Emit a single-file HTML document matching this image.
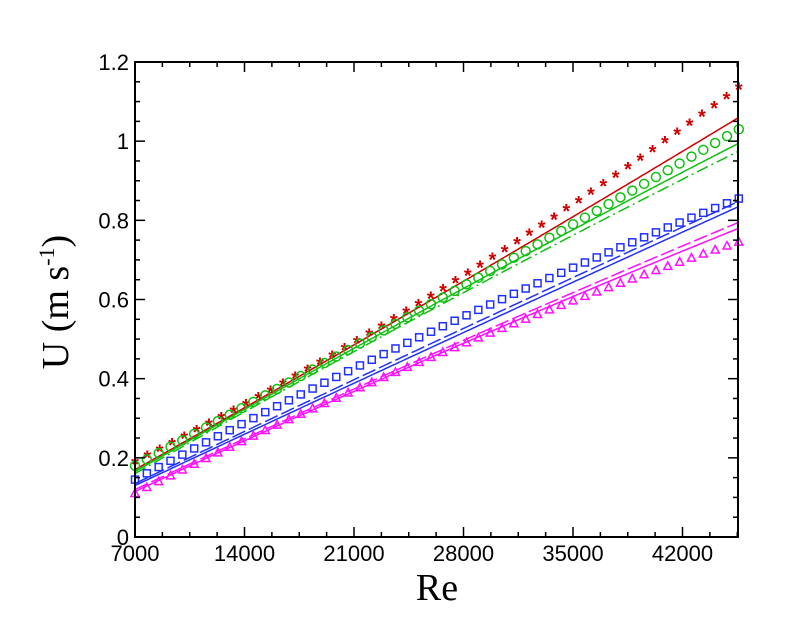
<!DOCTYPE html>
<html><head><style>body{margin:0;background:#fff}svg{display:block}</style></head>
<body>
<svg id="s" width="806" height="619" xmlns="http://www.w3.org/2000/svg" font-family="Liberation Sans, sans-serif"></svg>
<script>
const s=document.getElementById('s');
const L=135,R=738,T=62,B=537;
const X=v=>L+(v-7000)/7000*109.5, Y=v=>B-v/1.2*(B-T);
let h='';
function f(p,x){const [a,b,c]=p;const x0=7000,x1=26000,x2=45600;
 return a*(x-x1)*(x-x2)/((x0-x1)*(x0-x2))+b*(x-x0)*(x-x2)/((x1-x0)*(x1-x2))+c*(x-x0)*(x-x1)/((x2-x0)*(x2-x1));}
function line(p,col,dash){let d='';for(let x=7000;x<=45600;x+=200){d+=(d?'L':'M')+X(x).toFixed(1)+','+Y(f(p,x)).toFixed(1);}
 h+=`<path d="${d}" fill="none" stroke="${col}" stroke-width="1.5" ${dash?'stroke-dasharray="'+dash+'"':''}/>`;}
line([0.17,0.6,1.06],'#d00000');
line([0.165,0.585,0.995],'#10c010');
line([0.16,0.575,0.975],'#10c010','12,4,2,4');
line([0.13,0.48,0.835],'#2030ff');
line([0.135,0.49,0.848],'#2030ff','14,4');
line([0.115,0.455,0.78],'#ff10ff');
line([0.12,0.462,0.795],'#ff10ff','14,4');
function marks(p,col,type,n){for(let i=0;i<n;i++){const x=7000+i*(38600/(n-1));const px=X(x),py=Y(f(p,x));
 if(type=='star')h+=`<text x="${px}" y="${py+9}" font-size="20" font-weight="bold" fill="${col}" text-anchor="middle">*</text>`;
 if(type=='circ')h+=`<circle cx="${px}" cy="${py}" r="4.5" fill="none" stroke="${col}" stroke-width="1.5"/>`;
 if(type=='sq')h+=`<rect x="${px-3.5}" y="${py-3.5}" width="7" height="7" fill="none" stroke="${col}" stroke-width="1.5"/>`;
 if(type=='tri')h+=`<path d="M${px},${py-4.5}L${px+4},${py+3}L${px-4},${py+3}Z" fill="none" stroke="${col}" stroke-width="1.5"/>`;}}
marks([0.19,0.61,1.135],'#d00000','star',50);
marks([0.18,0.59,1.03],'#10c010','circ',52);
marks([0.145,0.52,0.855],'#2030ff','sq',52);
marks([0.11,0.455,0.745],'#ff10ff','tri',52);
h+=`<rect x="${L}" y="${T}" width="${R-L}" height="${B-T}" fill="none" stroke="#000" stroke-width="2"/>`;
for(let v=0;v<=1.2001;v+=0.05){const y=Y(v),maj=Math.abs(v*5-Math.round(v*5))<1e-6;const l=maj?10:5;
 h+=`<line x1="${L}" x2="${L+l}" y1="${y}" y2="${y}" stroke="#000" stroke-width="1.5"/><line x1="${R}" x2="${R-l}" y1="${y}" y2="${y}" stroke="#000" stroke-width="1.5"/>`;
 if(maj)h+=`<text x="${L-6}" y="${y+8}" font-size="22" text-anchor="end">${+v.toFixed(1)}</text>`;}
for(let v=7000;v<=45600;v+=1750){const x=X(v),maj=(v%7000)==0;const l=maj?10:5;
 h+=`<line x1="${x}" x2="${x}" y1="${B}" y2="${B-l}" stroke="#000" stroke-width="1.5"/><line x1="${x}" x2="${x}" y1="${T}" y2="${T+l}" stroke="#000" stroke-width="1.5"/>`;
 if(maj)h+=`<text x="${x}" y="${B+24}" font-size="22" text-anchor="middle">${v}</text>`;}
h+=`<text x="437" y="600" font-size="38" font-family="Liberation Serif, serif" text-anchor="middle">Re</text>`;
h+=`<text transform="translate(68,302) rotate(-90)" font-size="38" font-family="Liberation Serif, serif" text-anchor="middle">U (m s<tspan font-size="22" dy="-14">-1</tspan><tspan dy="14">)</tspan></text>`;
s.innerHTML=h;
</script>
</body></html>
